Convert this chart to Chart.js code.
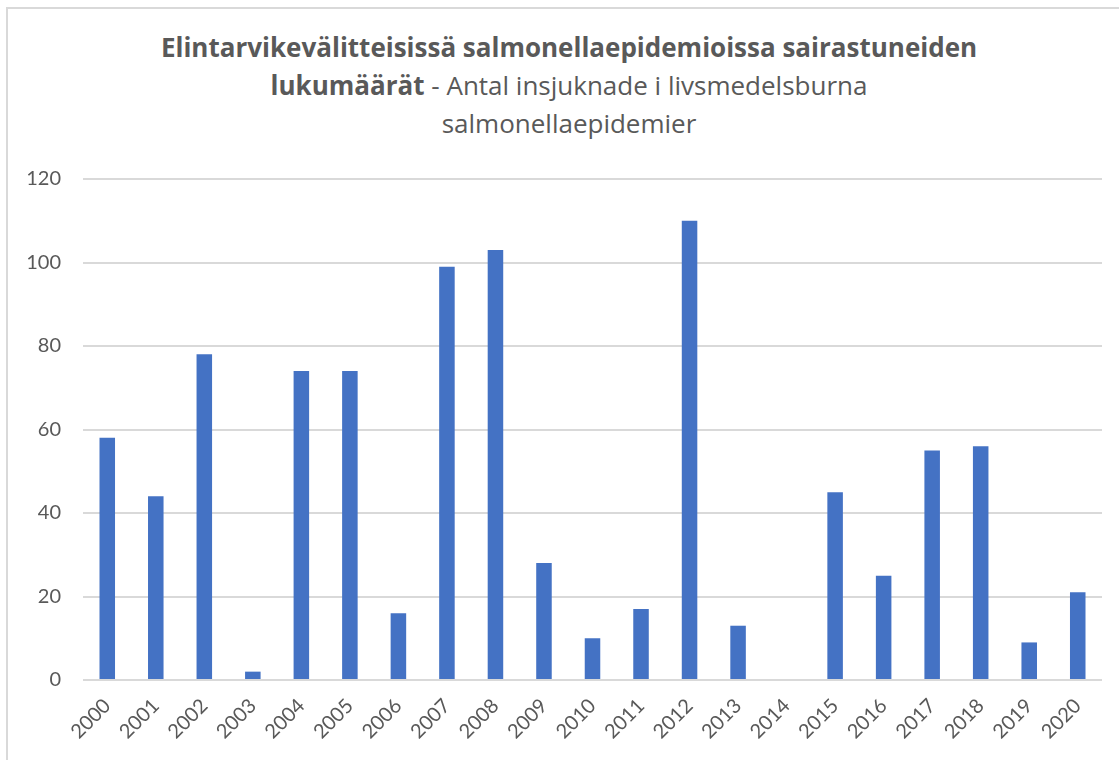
<!DOCTYPE html>
<html>
<head>
<meta charset="utf-8">
<script src="https://cdn.jsdelivr.net/npm/chart.js@4/dist/chart.umd.min.js"></script>
<style>
  html, body { margin: 0; padding: 0; background: #ffffff; width: 1119px; height: 760px; overflow: hidden; }
  #frame { position: absolute; left: 6px; top: 7px; width: 1200px; height: 800px; border: 2px solid #d9d9d9; box-sizing: border-box; }
  #wrap { position: absolute; left: 0; top: 0; width: 1119px; height: 760px; }
  #title { position: absolute; left: 0; top: 28px; width: 1138px; text-align: center; font-family: "Open Sans", Lato, sans-serif; font-size: 26px; line-height: 38px; color: #595959; }
  #title b { font-weight: bold; }
</style>
</head>
<body>
<div id="frame"></div>
<div id="title"><b>Elintarvikevälitteisissä salmonellaepidemioissa sairastuneiden</b><br><b>lukumäärät</b> - Antal insjuknade i livsmedelsburna<br>salmonellaepidemier</div>
<div id="wrap"><canvas id="c" width="1119" height="760"></canvas></div>
<script>
const years = ["2000","2001","2002","2003","2004","2005","2006","2007","2008","2009","2010","2011","2012","2013","2014","2015","2016","2017","2018","2019","2020"];
const cases = [58, 44, 78, 2, 74, 74, 16, 99, 103, 28, 10, 17, 110, 13, 0, 45, 25, 55, 56, 9, 21];
const yTicks = [0, 20, 40, 60, 80, 100, 120];

new Chart(document.getElementById('c'), {
  type: 'bar',
  data: {
    labels: years,
    datasets: [{
      data: cases,
      backgroundColor: '#4472C4',
      borderWidth: 0,
      barPercentage: 0.64,
      categoryPercentage: 0.5
    }]
  },
  options: {
    responsive: false,
    animation: false,
    devicePixelRatio: 1,
    layout: { padding: { left: 0, top: 179, right: 17, bottom: 0 } },
    plugins: { legend: { display: false }, title: { display: false }, tooltip: { enabled: false } },
    scales: {
      x: {
        grid: { display: false, drawTicks: false },
        border: { display: false },
        ticks: {
          color: '#595959',
          font: { family: 'Lato, "Open Sans", sans-serif', size: 20 },
          maxRotation: 45, minRotation: 45,
          padding: 14,
          autoSkip: false
        },
        afterFit: s => { s.height = 80; }
      },
      y: {
        min: 0, max: 120,
        afterBuildTicks: s => { s.ticks = yTicks.map(v => ({ value: v })); },
        grid: { color: '#d9d9d9', lineWidth: 2, drawTicks: false },
        border: { display: false },
        ticks: {
          color: '#595959',
          font: { family: 'Lato, "Open Sans", sans-serif', size: 20 },
          padding: 22
        },
        afterFit: s => { s.width = 83; }
      }
    }
  }
});
</script>
</body>
</html>
